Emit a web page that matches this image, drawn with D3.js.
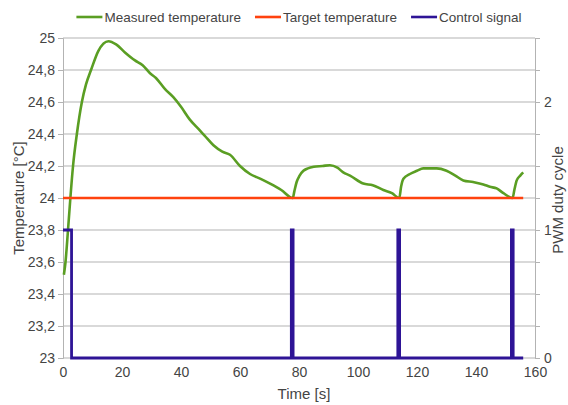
<!DOCTYPE html>
<html>
<head>
<meta charset="utf-8">
<script src="https://cdn.jsdelivr.net/npm/d3@7"></script>
<style>
	body { margin: 0; background: #fff; }
	text { font-family: "Liberation Sans", Arial, sans-serif; fill: #444; }
</style>
</head>
<body>
<div id="chart"></div>
<script>
// measured temperature
const measTime = [0.3, 0.85, 1.7, 2.5, 3.4, 4.7, 6.4, 7.8, 9.5, 12, 15.4, 18, 21, 24.4, 27, 29.5, 31.5, 34.6,
	37.4, 40, 43, 46, 48, 51, 54, 56.6, 60, 63.4, 67, 70.2, 74, 77.9,
	78.4, 79.2, 80.2, 81.5, 83, 85, 88, 90.5, 93, 95, 97.3, 101.8, 105, 108.6, 111.5, 114,
	114.6, 115.4, 117.6, 120, 122.1, 126.7, 130, 133, 135.7, 139, 142.5, 144.7, 147, 149.3, 152.4,
	153, 153.8, 155, 156];
const measTemp = [23.52, 23.6, 23.8, 24.0, 24.2, 24.4, 24.6, 24.71, 24.8, 24.92, 24.98, 24.96, 24.91, 24.86, 24.83, 24.78, 24.75, 24.68,
	24.63, 24.57, 24.49, 24.43, 24.39, 24.33, 24.29, 24.27, 24.2, 24.15, 24.12, 24.09, 24.05, 24.0,
	24.04, 24.1, 24.14, 24.17, 24.185, 24.195, 24.2, 24.205, 24.19, 24.16, 24.14, 24.09, 24.08, 24.05, 24.03, 24.0,
	24.07, 24.12, 24.15, 24.17, 24.185, 24.185, 24.17, 24.14, 24.11, 24.1, 24.085, 24.07, 24.06, 24.03, 24.0,
	24.05, 24.11, 24.14, 24.16];

// target temperature
const targetTime = [0, 156];
const targetTemp = [24, 24];

// control signal (PWM duty), step changes
const ctrlTime = [0, 2.9, 77.4, 78.0, 113.5, 114.1, 152.0, 152.6, 156];
const ctrlDuty = [1, 0, 1, 0, 1, 0, 1, 0, 0];

const xTicks = [0, 20, 40, 60, 80, 100, 120, 140, 160];
const tempTicks = [23, 23.2, 23.4, 23.6, 23.8, 24, 24.2, 24.4, 24.6, 24.8, 25];
const dutyTicks = [0, 1, 2];

const seriesNames = ["Measured temperature", "Target temperature", "Control signal"];
const seriesColors = ["#5a9e23", "#ff420e", "#2e1496"];

const width = 568, height = 405;
const margin = { top: 38, right: 33, bottom: 47, left: 63 };
const innerW = width - margin.left - margin.right;
const innerH = height - margin.top - margin.bottom;

const svg = d3.select("#chart").append("svg")
	.attr("width", width)
	.attr("height", height);

const x = d3.scaleLinear().domain([0, 160]).range([margin.left, margin.left + innerW]);
const yT = d3.scaleLinear().domain([23, 25]).range([margin.top + innerH, margin.top]);
const yD = d3.scaleLinear().domain([0, 2.5]).range([margin.top + innerH, margin.top]);

const comma = (d) => String(d).replace(".", ",");

// horizontal grid
svg.append("g")
	.selectAll("line")
	.data(tempTicks)
	.join("line")
	.attr("x1", margin.left)
	.attr("x2", margin.left + innerW)
	.attr("y1", (d) => yT(d))
	.attr("y2", (d) => yT(d))
	.attr("stroke", "#b3b3b3")
	.attr("stroke-width", 1);

// left axis
const leftAxis = svg.append("g")
	.attr("transform", `translate(${margin.left},0)`)
	.call(d3.axisLeft(yT).tickValues(tempTicks).tickFormat(comma).tickSize(5).tickPadding(3));

// right axis: tick marks at every grid line, labels on 0,1,2
const rightAxis = svg.append("g")
	.attr("transform", `translate(${margin.left + innerW},0)`)
	.call(d3.axisRight(yD).tickValues(d3.range(0, 2.51, 0.25)).tickFormat((d) => dutyTicks.includes(d) ? d : "").tickSize(5).tickPadding(4));

// bottom axis
const bottomAxis = svg.append("g")
	.attr("transform", `translate(0,${margin.top + innerH})`)
	.call(d3.axisBottom(x).tickValues(xTicks).tickSize(0).tickPadding(9));

[leftAxis, rightAxis, bottomAxis].forEach((g) => {
	g.select(".domain").attr("stroke", "#b3b3b3");
	g.selectAll(".tick line").attr("stroke", "#b3b3b3");
	g.selectAll(".tick text").style("font-size", "14px").attr("fill", "#444");
});
bottomAxis.select(".domain").remove();
rightAxis.selectAll(".tick text").attr("dy", "0.3em");

// series
const lineT = d3.line().x((d) => x(d[0])).y((d) => yT(d[1])).curve(d3.curveMonotoneX);
const lineD = d3.line().x((d) => x(d[0])).y((d) => yD(d[1])).curve(d3.curveStepAfter);

svg.append("path")
	.datum(measTime.map((t, i) => [t, measTemp[i]]))
	.attr("fill", "none")
	.attr("stroke", seriesColors[0])
	.attr("stroke-width", 2.6)
	.attr("stroke-linejoin", "round")
	.attr("d", lineT);

svg.append("path")
	.datum(targetTime.map((t, i) => [t, targetTemp[i]]))
	.attr("fill", "none")
	.attr("stroke", seriesColors[1])
	.attr("stroke-width", 2.6)
	.attr("d", d3.line().x((d) => x(d[0])).y((d) => yT(d[1])));

svg.append("path")
	.datum(ctrlTime.map((t, i) => [t, ctrlDuty[i]]))
	.attr("fill", "none")
	.attr("stroke", seriesColors[2])
	.attr("stroke-width", 2.8)
	.attr("d", lineD);

// axis titles
svg.append("text")
	.attr("transform", `translate(24,${margin.top + innerH / 2}) rotate(-90)`)
	.attr("text-anchor", "middle")
	.style("font-size", "15px")
	.text("Temperature [°C]");

svg.append("text")
	.attr("transform", `translate(563,${margin.top + innerH / 2 + 2}) rotate(-90)`)
	.attr("text-anchor", "middle")
	.style("font-size", "15px")
	.text("PWM duty cycle");

svg.append("text")
	.attr("x", margin.left + innerW / 2 + 5)
	.attr("y", 399)
	.attr("text-anchor", "middle")
	.style("font-size", "15px")
	.text("Time [s]");

// legend
const legend = svg.append("g");
let lx = 0;
seriesNames.forEach((name, i) => {
	const g = legend.append("g");
	g.append("line")
		.attr("x1", 0).attr("x2", 26)
		.attr("y1", 0).attr("y2", 0)
		.attr("stroke", seriesColors[i])
		.attr("stroke-width", 2.6);
	const t = g.append("text")
		.attr("x", 28)
		.attr("dy", "0.35em")
		.style("font-size", "13.5px")
		.text(name);
	const w = 28 + t.node().getComputedTextLength();
	g.attr("transform", `translate(${lx},0)`);
	lx += w + 14;
});
const legendW = lx - 14;
legend.attr("transform", `translate(${(margin.left + innerW / 2) - legendW / 2},17)`);
</script>
</body>
</html>
